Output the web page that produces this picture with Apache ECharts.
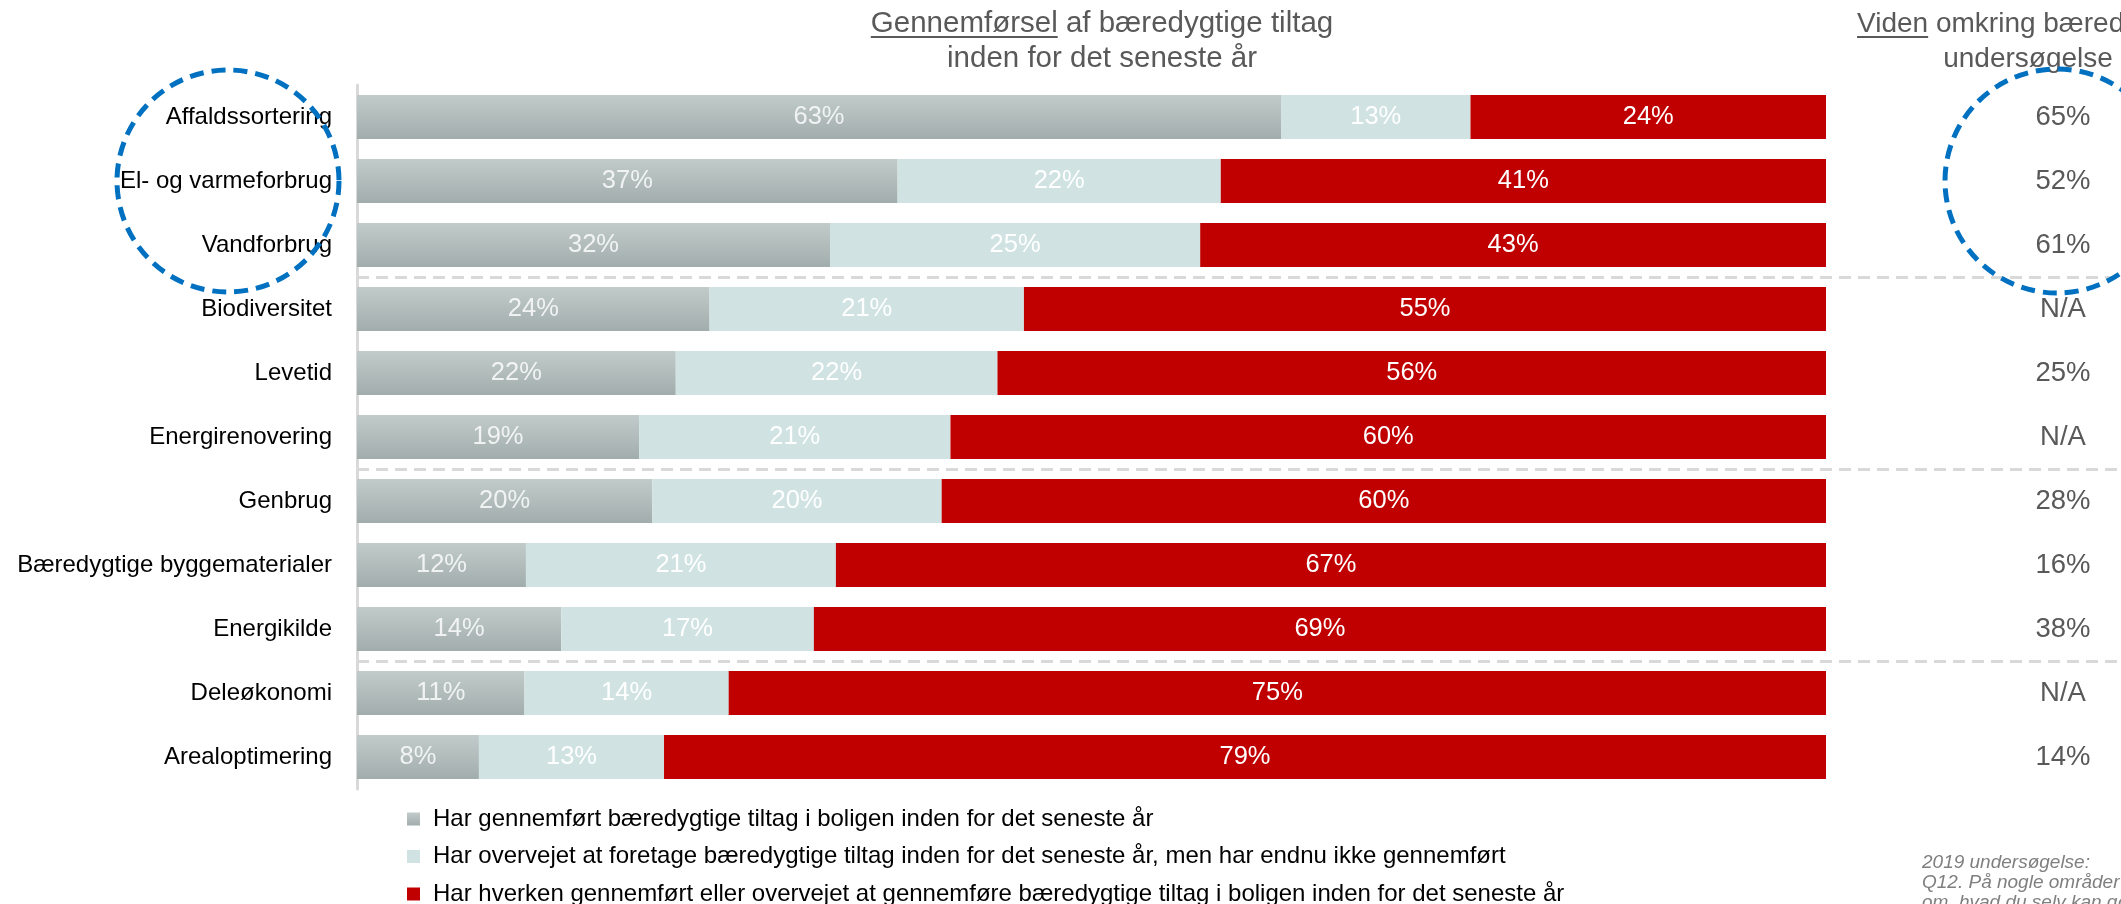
<!DOCTYPE html>
<html>
<head>
<meta charset="utf-8">
<script src="https://cdn.jsdelivr.net/npm/echarts@6/dist/echarts.min.js"></script>
<style>
  html, body { margin: 0; padding: 0; background: #fff; }
  #chart { width: 2121px; height: 904px; }
</style>
</head>
<body>
<div id="chart"></div>
<script>
// --- data ---
const categories = [
  'Affaldssortering', 'El- og varmeforbrug', 'Vandforbrug', 'Biodiversitet',
  'Levetid', 'Energirenovering', 'Genbrug', 'Bæredygtige byggematerialer',
  'Energikilde', 'Deleøkonomi', 'Arealoptimering'
]
const doneShare = [62.9, 36.8, 32.2, 24.0, 21.7, 19.2, 20.1, 11.5, 13.9, 11.4, 8.3]
const consideredShare = [12.9, 22.0, 25.2, 21.4, 21.9, 21.2, 19.7, 21.1, 17.2, 13.9, 12.6]
const neitherShare = [24.2, 41.2, 42.6, 54.6, 56.4, 59.6, 60.2, 67.4, 68.9, 74.7, 79.1]
const knowledge2019 = ['65%', '52%', '61%', 'N/A', '25%', 'N/A', '28%', '16%', '38%', 'N/A', '14%']
const groupBreaks = [3, 6, 9]
const highlighted = 'El- og varmeforbrug'
const seriesNames = [
  'Har gennemført bæredygtige tiltag i boligen inden for det seneste år',
  'Har overvejet at foretage bæredygtige tiltag inden for det seneste år, men har endnu ikke gennemført',
  'Har hverken gennemført eller overvejet at gennemføre bæredygtige tiltag i boligen inden for det seneste år'
]

const FONT = '"Liberation Sans", Arial, sans-serif'
const GRID = { left: 357, right: 295, top: 85, bottom: 115 }

const chart = echarts.init(document.getElementById('chart'))

const barLabel = (color) => ({
  show: true,
  position: 'inside',
  color: color,
  fontFamily: FONT,
  fontSize: 25.5,
  formatter: (p) => Math.round(p.value) + '%'
})

const greyFill = new echarts.graphic.LinearGradient(0, 0, 0, 1, [
  { offset: 0, color: '#c1cbca' },
  { offset: 1, color: '#a1adac' }
])

// one legend block per row so they stack without wrapping into columns
const legends = seriesNames.map((name, i) => ({
  orient: 'vertical',
  left: 407,
  top: 807 + i * 37.5,
  padding: 0,
  itemWidth: 13,
  itemHeight: 13,
  icon: 'rect',
  data: [name],
  textStyle: { color: '#000', fontSize: 24, fontFamily: FONT, lineHeight: 20, padding: [0, 0, 0, 8] }
}))

const option = {
  animation: false,
  textStyle: { fontFamily: FONT },
  grid: [
    { ...GRID },
    { left: GRID.left, right: 0, top: GRID.top, bottom: GRID.bottom }
  ],
  xAxis: [
    { type: 'value', min: 0, max: 100, show: false, gridIndex: 0 },
    { type: 'value', min: 0, max: 1, show: false, gridIndex: 1 }
  ],
  yAxis: [
    {
      type: 'category',
      data: categories,
      inverse: true,
      gridIndex: 0,
      axisLine: { show: true, lineStyle: { color: '#d9d9d9', width: 3 } },
      axisTick: { show: false },
      axisLabel: { color: '#000', fontSize: 24, fontFamily: FONT, margin: 25 }
    },
    {
      type: 'category',
      data: knowledge2019,
      inverse: true,
      gridIndex: 0,
      position: 'right',
      axisLine: { show: false },
      axisTick: { show: false },
      axisLabel: { color: '#595959', fontSize: 27.5, fontFamily: FONT, align: 'center', margin: 237 }
    },
    { type: 'value', min: 0, max: categories.length, inverse: true, show: false, gridIndex: 1 }
  ],
  legend: legends,
  series: [
    {
      name: seriesNames[0], type: 'bar', stack: 'all', barWidth: 44,
      data: doneShare, itemStyle: { color: greyFill },
      label: barLabel('rgba(255,255,255,0.82)')
    },
    {
      name: seriesNames[1], type: 'bar', stack: 'all', barWidth: 44,
      data: consideredShare, itemStyle: { color: '#d0e3e2' },
      label: barLabel('#ffffff')
    },
    {
      name: seriesNames[2], type: 'bar', stack: 'all', barWidth: 44,
      data: neitherShare, itemStyle: { color: '#c00000' },
      label: barLabel('#ffffff')
    },
    {
      type: 'line', xAxisIndex: 1, yAxisIndex: 2, data: [], silent: true,
      markLine: {
        silent: true,
        symbol: 'none',
        label: { show: false },
        lineStyle: { type: [12, 7], color: '#d9d9d9', width: 3 },
        data: groupBreaks.map((b) => ({ yAxis: b }))
      }
    }
  ]
}

chart.setOption(option)

// --- titles, underlines and highlight circles ---
const measure = (() => {
  const ctx = document.createElement('canvas').getContext('2d')
  return (text, size) => {
    ctx.font = size + 'px ' + FONT
    return ctx.measureText(text).width
  }
})()

const titleColor = '#595959'

const titleBlock = (cx, size, line1, underlined, line2) => {
  const w1 = measure(line1, size)
  const start = cx - w1 / 2
  const uw = measure(underlined, size)
  const font = size + 'px ' + FONT
  return [
    { type: 'text', x: cx, y: 24, style: { text: line1, fill: titleColor, font: font, align: 'center', verticalAlign: 'middle' } },
    { type: 'text', x: cx, y: 59, style: { text: line2, fill: titleColor, font: font, align: 'center', verticalAlign: 'middle' } },
    { type: 'line', shape: { x1: start, y1: 37, x2: start + uw, y2: 37 }, style: { stroke: titleColor, lineWidth: 2 } }
  ]
}

const cy = chart.convertToPixel({ yAxisIndex: 0 }, categories.indexOf(highlighted))
const circleStyle = { fill: 'none', stroke: '#0070c0', lineWidth: 5, lineDash: [14, 8] }

const noteFont = 'italic 19px ' + FONT
const noteLines = ['2019 undersøgelse:', 'Q12. På nogle områder', 'om, hvad du selv kan gøre']

chart.setOption({
  graphic: [
    ...titleBlock(1102, 29.5, 'Gennemførsel af bæredygtige tiltag', 'Gennemførsel', 'inden for det seneste år'),
    ...titleBlock(2028, 28, 'Viden omkring bæredygtige', 'Viden', 'undersøgelse'),
    { type: 'circle', shape: { cx: 228, cy: cy, r: 111 }, style: circleStyle, z: 10 },
    { type: 'circle', shape: { cx: 2057, cy: cy, r: 112 }, style: circleStyle, z: 10 },
    ...noteLines.map((t, i) => ({
      type: 'text', x: 1922, y: 863 + i * 20,
      style: { text: t, fill: '#7f7f7f', font: noteFont, align: 'left', verticalAlign: 'middle' }
    }))
  ]
})

window.addEventListener('resize', () => chart.resize())
</script>
</body>
</html>
